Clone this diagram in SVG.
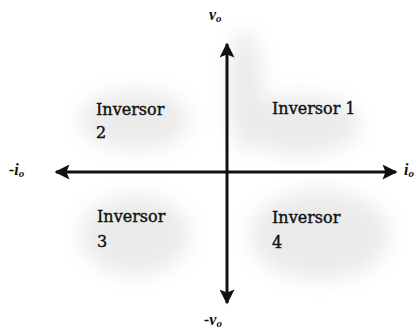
<svg xmlns="http://www.w3.org/2000/svg" width="418" height="331" viewBox="0 0 418 331">
<style>
.lbl{font-family:"DejaVu Serif","Liberation Serif",serif;font-size:16px;fill:#111;stroke:#111;stroke-width:0.4}
.ax{font-family:"Liberation Serif",serif;font-size:16px;font-weight:bold;font-style:italic;fill:#111}
.sub{font-size:11px}
.axis{stroke:#111;stroke-width:3;fill:none}
</style>
<defs>
<marker id="ah" viewBox="0 0 10 10" refX="9" refY="5" markerWidth="5.5" markerHeight="5" orient="auto" markerUnits="strokeWidth">
<path d="M0,0 L10,5 L0,10 L2,5 Z" fill="#111"/>
</marker>
<filter id="blur" x="-50%" y="-50%" width="200%" height="200%"><feGaussianBlur stdDeviation="10"/></filter>
</defs>
<rect width="418" height="331" fill="#fff"/>
<g id="background" filter="url(#blur)" fill="#e6e6e6" opacity="0.8">
<ellipse cx="135" cy="120" rx="55" ry="30"/>
<ellipse cx="135" cy="235" rx="55" ry="40"/>
<ellipse cx="320" cy="235" rx="70" ry="45"/>
<ellipse cx="300" cy="125" rx="60" ry="30"/>
<ellipse cx="245" cy="90" rx="18" ry="60"/>
</g>
<g id="connectors">
<line class="axis" x1="227" y1="172" x2="227" y2="44" marker-end="url(#ah)"/>
<line class="axis" x1="227" y1="172" x2="227" y2="303" marker-end="url(#ah)"/>
<line class="axis" x1="227" y1="172" x2="396" y2="172" marker-end="url(#ah)"/>
<line class="axis" x1="227" y1="172" x2="56" y2="172" marker-end="url(#ah)"/>
</g>
<g id="axis-vo"><text class="ax" x="209" y="20">v<tspan class="sub" dy="2">o</tspan></text></g>
<g id="axis-neg-vo"><text class="ax" x="204" y="325">-v<tspan class="sub" dy="2">o</tspan></text></g>
<g id="axis-io"><text class="ax" x="404" y="175">i<tspan class="sub" dy="2">o</tspan></text></g>
<g id="axis-neg-io"><text class="ax" x="9" y="175">-i<tspan class="sub" dy="2">o</tspan></text></g>
<g id="inversor1"><text class="lbl" x="272" y="114">Inversor 1</text></g>
<g id="inversor2"><text class="lbl" x="96" y="115">Inversor</text><text class="lbl" x="96" y="138">2</text></g>
<g id="inversor3"><text class="lbl" x="97" y="222">Inversor</text><text class="lbl" x="97" y="247">3</text></g>
<g id="inversor4"><text class="lbl" x="272" y="223">Inversor</text><text class="lbl" x="272" y="248">4</text></g>
</svg>
